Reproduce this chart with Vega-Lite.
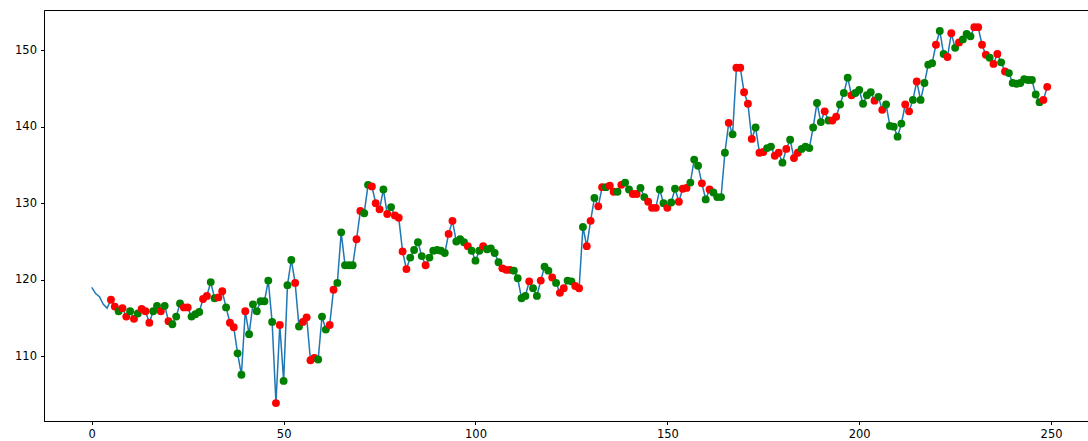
{
  "$schema": "https://vega.github.io/schema/vega-lite/v6.json",
  "autosize": {"type": "none"},
  "padding": {"left": 44, "top": 10, "right": 0, "bottom": 20},
  "width": 1051,
  "height": 411,
  "background": "white",
  "config": {
    "view": {"stroke": "black", "strokeWidth": 1},
    "axis": {"grid": false, "domainColor": "black", "tickColor": "black", "tickSize": 3.5, "labelFontSize": 11.5, "labelColor": "black", "labelFont": "DejaVu Sans", "labelPadding": 3.5, "title": null}
  },
  "data": {"values": [
    {"i":0,"v":119.0,"s":null},{"i":1,"v":118.2,"s":null},{"i":2,"v":117.8,"s":null},{"i":3,"v":116.8,"s":null},{"i":4,"v":116.3,"s":null},
    {"i":5,"v":117.4,"s":"r"},{"i":6,"v":116.5,"s":"r"},{"i":7,"v":115.9,"s":"g"},{"i":8,"v":116.3,"s":"r"},{"i":9,"v":115.2,"s":"r"},
    {"i":10,"v":115.9,"s":"g"},{"i":11,"v":114.9,"s":"r"},{"i":12,"v":115.6,"s":"g"},{"i":13,"v":116.2,"s":"r"},{"i":14,"v":115.9,"s":"r"},
    {"i":15,"v":114.4,"s":"r"},{"i":16,"v":115.9,"s":"g"},{"i":17,"v":116.6,"s":"g"},{"i":18,"v":115.9,"s":"r"},{"i":19,"v":116.6,"s":"g"},
    {"i":20,"v":114.6,"s":"r"},{"i":21,"v":114.2,"s":"g"},{"i":22,"v":115.2,"s":"g"},{"i":23,"v":116.9,"s":"g"},{"i":24,"v":116.4,"s":"r"},
    {"i":25,"v":116.4,"s":"r"},{"i":26,"v":115.2,"s":"g"},{"i":27,"v":115.5,"s":"g"},{"i":28,"v":115.8,"s":"g"},{"i":29,"v":117.5,"s":"r"},
    {"i":30,"v":117.9,"s":"r"},{"i":31,"v":119.7,"s":"g"},{"i":32,"v":117.6,"s":"g"},{"i":33,"v":117.7,"s":"r"},{"i":34,"v":118.5,"s":"r"},
    {"i":35,"v":116.4,"s":"g"},{"i":36,"v":114.4,"s":"r"},{"i":37,"v":113.8,"s":"r"},{"i":38,"v":110.4,"s":"g"},{"i":39,"v":107.6,"s":"g"},
    {"i":40,"v":115.9,"s":"r"},{"i":41,"v":112.9,"s":"g"},{"i":42,"v":116.8,"s":"g"},{"i":43,"v":115.9,"s":"g"},{"i":44,"v":117.2,"s":"g"},
    {"i":45,"v":117.2,"s":"g"},{"i":46,"v":119.9,"s":"g"},{"i":47,"v":114.5,"s":"g"},{"i":48,"v":103.9,"s":"r"},{"i":49,"v":114.1,"s":"r"},
    {"i":50,"v":106.8,"s":"g"},{"i":51,"v":119.3,"s":"g"},{"i":52,"v":122.6,"s":"g"},{"i":53,"v":119.6,"s":"r"},{"i":54,"v":113.9,"s":"g"},
    {"i":55,"v":114.5,"s":"r"},{"i":56,"v":115.1,"s":"r"},{"i":57,"v":109.5,"s":"r"},{"i":58,"v":109.8,"s":"r"},{"i":59,"v":109.6,"s":"g"},
    {"i":60,"v":115.2,"s":"g"},{"i":61,"v":113.5,"s":"g"},{"i":62,"v":114.1,"s":"r"},{"i":63,"v":118.7,"s":"r"},{"i":64,"v":119.6,"s":"g"},
    {"i":65,"v":126.2,"s":"g"},{"i":66,"v":121.9,"s":"g"},{"i":67,"v":121.9,"s":"g"},{"i":68,"v":121.9,"s":"g"},{"i":69,"v":125.3,"s":"r"},
    {"i":70,"v":129.0,"s":"r"},{"i":71,"v":128.7,"s":"g"},{"i":72,"v":132.4,"s":"g"},{"i":73,"v":132.2,"s":"r"},{"i":74,"v":130.0,"s":"r"},
    {"i":75,"v":129.2,"s":"r"},{"i":76,"v":131.8,"s":"g"},{"i":77,"v":128.6,"s":"r"},{"i":78,"v":129.5,"s":"g"},{"i":79,"v":128.4,"s":"r"},
    {"i":80,"v":128.1,"s":"r"},{"i":81,"v":123.7,"s":"r"},{"i":82,"v":121.4,"s":"r"},{"i":83,"v":122.9,"s":"g"},{"i":84,"v":123.9,"s":"g"},
    {"i":85,"v":124.9,"s":"g"},{"i":86,"v":123.1,"s":"g"},{"i":87,"v":121.9,"s":"r"},{"i":88,"v":122.9,"s":"g"},{"i":89,"v":123.8,"s":"g"},
    {"i":90,"v":123.9,"s":"g"},{"i":91,"v":123.8,"s":"g"},{"i":92,"v":123.5,"s":"g"},{"i":93,"v":126.0,"s":"r"},{"i":94,"v":127.7,"s":"r"},
    {"i":95,"v":125.0,"s":"g"},{"i":96,"v":125.3,"s":"g"},{"i":97,"v":124.9,"s":"g"},{"i":98,"v":124.4,"s":"r"},{"i":99,"v":123.8,"s":"g"},
    {"i":100,"v":122.5,"s":"g"},{"i":101,"v":123.8,"s":"g"},{"i":102,"v":124.4,"s":"r"},{"i":103,"v":124.0,"s":"g"},{"i":104,"v":124.1,"s":"g"},
    {"i":105,"v":123.5,"s":"g"},{"i":106,"v":122.3,"s":"g"},{"i":107,"v":121.5,"s":"r"},{"i":108,"v":121.3,"s":"r"},{"i":109,"v":121.3,"s":"r"},
    {"i":110,"v":121.2,"s":"g"},{"i":111,"v":120.2,"s":"g"},{"i":112,"v":117.6,"s":"g"},{"i":113,"v":117.9,"s":"g"},{"i":114,"v":119.8,"s":"r"},
    {"i":115,"v":118.9,"s":"g"},{"i":116,"v":117.9,"s":"g"},{"i":117,"v":119.9,"s":"r"},{"i":118,"v":121.7,"s":"g"},{"i":119,"v":121.2,"s":"g"},
    {"i":120,"v":120.3,"s":"r"},{"i":121,"v":119.6,"s":"g"},{"i":122,"v":118.3,"s":"r"},{"i":123,"v":118.9,"s":"r"},{"i":124,"v":119.9,"s":"g"},
    {"i":125,"v":119.8,"s":"g"},{"i":126,"v":119.2,"s":"r"},{"i":127,"v":118.9,"s":"r"},{"i":128,"v":126.9,"s":"g"},{"i":129,"v":124.4,"s":"r"},
    {"i":130,"v":127.7,"s":"r"},{"i":131,"v":130.7,"s":"g"},{"i":132,"v":129.6,"s":"r"},{"i":133,"v":132.1,"s":"r"},{"i":134,"v":132.1,"s":"g"},
    {"i":135,"v":132.3,"s":"r"},{"i":136,"v":131.5,"s":"r"},{"i":137,"v":131.5,"s":"g"},{"i":138,"v":132.4,"s":"r"},{"i":139,"v":132.7,"s":"g"},
    {"i":140,"v":131.8,"s":"g"},{"i":141,"v":131.2,"s":"r"},{"i":142,"v":131.2,"s":"r"},{"i":143,"v":132.0,"s":"g"},{"i":144,"v":130.8,"s":"g"},
    {"i":145,"v":130.2,"s":"r"},{"i":146,"v":129.4,"s":"r"},{"i":147,"v":129.4,"s":"r"},{"i":148,"v":131.8,"s":"g"},{"i":149,"v":130.0,"s":"g"},
    {"i":150,"v":129.4,"s":"r"},{"i":151,"v":130.1,"s":"g"},{"i":152,"v":131.9,"s":"g"},{"i":153,"v":130.2,"s":"r"},{"i":154,"v":131.9,"s":"r"},
    {"i":155,"v":132.0,"s":"r"},{"i":156,"v":132.7,"s":"g"},{"i":157,"v":135.7,"s":"g"},{"i":158,"v":134.9,"s":"g"},{"i":159,"v":132.6,"s":"r"},
    {"i":160,"v":130.5,"s":"g"},{"i":161,"v":131.8,"s":"r"},{"i":162,"v":131.4,"s":"g"},{"i":163,"v":130.8,"s":"g"},{"i":164,"v":130.8,"s":"g"},
    {"i":165,"v":136.6,"s":"g"},{"i":166,"v":140.5,"s":"r"},{"i":167,"v":139.0,"s":"g"},{"i":168,"v":147.7,"s":"r"},{"i":169,"v":147.7,"s":"r"},
    {"i":170,"v":144.5,"s":"r"},{"i":171,"v":143.0,"s":"r"},{"i":172,"v":138.4,"s":"r"},{"i":173,"v":139.9,"s":"g"},{"i":174,"v":136.6,"s":"r"},
    {"i":175,"v":136.7,"s":"r"},{"i":176,"v":137.2,"s":"g"},{"i":177,"v":137.4,"s":"g"},{"i":178,"v":136.2,"s":"r"},{"i":179,"v":136.6,"s":"r"},
    {"i":180,"v":135.3,"s":"g"},{"i":181,"v":137.1,"s":"r"},{"i":182,"v":138.3,"s":"g"},{"i":183,"v":135.9,"s":"r"},{"i":184,"v":136.6,"s":"r"},
    {"i":185,"v":137.1,"s":"g"},{"i":186,"v":137.4,"s":"g"},{"i":187,"v":137.2,"s":"g"},{"i":188,"v":139.9,"s":"g"},{"i":189,"v":143.1,"s":"g"},
    {"i":190,"v":140.6,"s":"g"},{"i":191,"v":142.0,"s":"r"},{"i":192,"v":140.8,"s":"g"},{"i":193,"v":140.8,"s":"r"},{"i":194,"v":141.3,"s":"r"},
    {"i":195,"v":142.9,"s":"g"},{"i":196,"v":144.4,"s":"g"},{"i":197,"v":146.4,"s":"g"},{"i":198,"v":144.1,"s":"r"},{"i":199,"v":144.4,"s":"g"},
    {"i":200,"v":144.8,"s":"g"},{"i":201,"v":143.0,"s":"g"},{"i":202,"v":144.1,"s":"g"},{"i":203,"v":144.5,"s":"g"},{"i":204,"v":143.4,"s":"r"},
    {"i":205,"v":143.9,"s":"g"},{"i":206,"v":142.2,"s":"r"},{"i":207,"v":142.9,"s":"g"},{"i":208,"v":140.1,"s":"g"},{"i":209,"v":140.0,"s":"g"},
    {"i":210,"v":138.7,"s":"g"},{"i":211,"v":140.4,"s":"g"},{"i":212,"v":142.9,"s":"r"},{"i":213,"v":142.0,"s":"r"},{"i":214,"v":143.5,"s":"g"},
    {"i":215,"v":145.9,"s":"r"},{"i":216,"v":143.5,"s":"g"},{"i":217,"v":145.7,"s":"g"},{"i":218,"v":148.1,"s":"g"},{"i":219,"v":148.3,"s":"g"},
    {"i":220,"v":150.7,"s":"r"},{"i":221,"v":152.5,"s":"g"},{"i":222,"v":149.5,"s":"g"},{"i":223,"v":149.1,"s":"r"},{"i":224,"v":152.2,"s":"r"},
    {"i":225,"v":150.3,"s":"g"},{"i":226,"v":151.0,"s":"r"},{"i":227,"v":151.4,"s":"g"},{"i":228,"v":152.1,"s":"g"},{"i":229,"v":151.8,"s":"g"},
    {"i":230,"v":153.0,"s":"r"},{"i":231,"v":153.0,"s":"r"},{"i":232,"v":150.7,"s":"r"},{"i":233,"v":149.4,"s":"r"},{"i":234,"v":149.0,"s":"g"},
    {"i":235,"v":148.2,"s":"r"},{"i":236,"v":149.5,"s":"r"},{"i":237,"v":148.4,"s":"g"},{"i":238,"v":147.2,"s":"r"},{"i":239,"v":147.0,"s":"g"},
    {"i":240,"v":145.7,"s":"g"},{"i":241,"v":145.6,"s":"g"},{"i":242,"v":145.7,"s":"g"},{"i":243,"v":146.2,"s":"g"},{"i":244,"v":146.1,"s":"g"},
    {"i":245,"v":146.1,"s":"g"},{"i":246,"v":144.2,"s":"g"},{"i":247,"v":143.2,"s":"g"},{"i":248,"v":143.5,"s":"r"},{"i":249,"v":145.2,"s":"r"}
  ]},
  "encoding": {
    "x": {"field": "i", "type": "quantitative", "scale": {"domain": [-12.45, 261.45], "nice": false, "zero": false}, "axis": {"values": [0, 50, 100, 150, 200, 250], "format": "d"}},
    "y": {"field": "v", "type": "quantitative", "scale": {"domain": [101.56, 155.24], "nice": false, "zero": false}, "axis": {"values": [110, 120, 130, 140, 150], "format": "d", "labelPadding": 4}}
  },
  "layer": [
    {"mark": {"type": "line", "color": "#1f77b4", "strokeWidth": 1.5}},
    {
      "transform": [{"filter": "datum.s != null"}],
      "mark": {"type": "circle", "size": 62, "opacity": 1},
      "encoding": {
        "color": {"field": "s", "type": "nominal", "scale": {"domain": ["r", "g"], "range": ["red", "green"]}, "legend": null}
      }
    }
  ]
}
